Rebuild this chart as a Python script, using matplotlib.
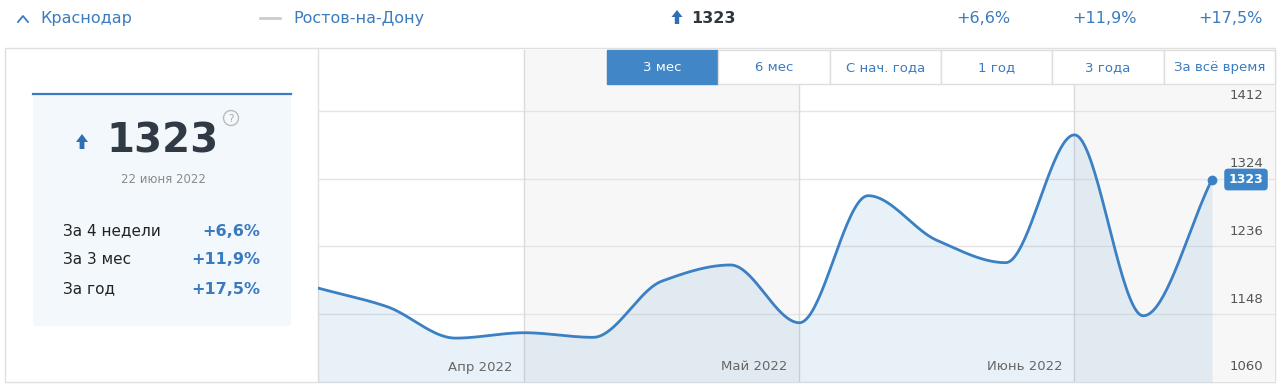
import numpy as np
import matplotlib.pyplot as plt
from matplotlib.patches import Rectangle, FancyBboxPatch, Circle, Polygon

W, H = 1280, 389

# weekly index values, last 3 months up to 22 June 2022
values = [1182, 1158, 1117, 1124, 1118, 1191, 1212, 1137, 1302, 1244, 1215, 1381, 1146, 1323]
month_labels = ["Апр 2022", "Май 2022", "Июнь 2022"]
month_starts = [3, 7, 11]
y_ticks = [1060, 1148, 1236, 1324, 1412]
periods = ["3 мес", "6 мес", "С нач. года", "1 год", "3 года", "За всё время"]
change_labels = ["За 4 недели", "За 3 мес", "За год"]
changes = ["+6,6%", "+11,9%", "+17,5%"]
current = "1323"
date_label = "22 июня 2022"
city = "Краснодар"
other_city = "Ростов-на-Дону"

BLUE = "#3d85c6"
TEXT_BLUE = "#3b7bbf"
BORDER = "#e0e0e0"


def monotone_spline(y, n=40):
    # Fritsch-Carlson monotone cubic through the points
    y = np.asarray(y, float)
    x = np.arange(len(y), dtype=float)
    d = np.diff(y)
    m = np.zeros_like(y)
    m[0], m[-1] = d[0], d[-1]
    for i in range(1, len(y) - 1):
        if d[i - 1] * d[i] <= 0:
            m[i] = 0
        else:
            m[i] = 2 / (1 / d[i - 1] + 1 / d[i])
    xs, ys = [], []
    for i in range(len(d)):
        t = np.linspace(0, 1, n, endpoint=False)
        h00 = 2 * t**3 - 3 * t**2 + 1
        h10 = t**3 - 2 * t**2 + t
        h01 = -2 * t**3 + 3 * t**2
        h11 = t**3 - t**2
        xs.append(x[i] + t)
        ys.append(h00 * y[i] + h10 * m[i] + h01 * y[i + 1] + h11 * m[i + 1])
    xs.append([x[-1]])
    ys.append([y[-1]])
    return np.concatenate(xs), np.concatenate(ys)


fig = plt.figure(figsize=(W / 100, H / 100), dpi=100)

# background layer in pixel coordinates
bg = fig.add_axes([0, 0, 1, 1])
bg.set_xlim(0, W)
bg.set_ylim(H, 0)
bg.axis("off")
bg.set_zorder(0)

# header row
bg.plot([18, 23, 28], [22, 16, 22], color=TEXT_BLUE, lw=1.3)
bg.text(40, 18, city, color=TEXT_BLUE, fontsize=11.5, va="center")
bg.plot([260, 280], [18, 18], color="#cccccc", lw=2)
bg.text(293, 18, other_city, color=TEXT_BLUE, fontsize=11.5, va="center")
bg.add_patch(Polygon([(677, 10), (671.5, 17), (674.8, 17), (674.8, 24), (679.2, 24),
                      (679.2, 17), (682.5, 17)], closed=True, fc="#2f6fb3", ec="none"))
bg.text(691, 18, current, color="#30363d", fontsize=11.5, fontweight="bold", va="center")
for txt, xr in zip(changes, [1010, 1137, 1263]):
    bg.text(xr, 18, txt, color=TEXT_BLUE, fontsize=11.5, va="center", ha="right")

# panels
bg.add_patch(Rectangle((5, 48), 1270, 334, fc="white", ec=BORDER, lw=1))
bg.plot([318, 318], [48, 382], color=BORDER, lw=1)

# summary card
bg.add_patch(FancyBboxPatch((33, 93), 258, 233, boxstyle="round,pad=0,rounding_size=4",
                            fc="#f3f8fc", ec="none"))
bg.plot([33, 291], [94, 94], color="#3a7abf", lw=1.6)
bg.add_patch(Polygon([(82, 134), (76, 142), (79.6, 142), (79.6, 149), (84.4, 149),
                      (84.4, 142), (88, 142)], closed=True, fc="#2f6fb3", ec="none"))
bg.text(163, 141, current, color="#2f3a44", fontsize=29, fontweight="bold",
        ha="center", va="center")
bg.add_patch(Circle((231, 118), 7.5, fc="none", ec="#bbbbbb", lw=1))
bg.text(231, 118.5, "?", color="#aaaaaa", fontsize=7.5, ha="center", va="center")
bg.text(163, 179, date_label, color="#8a8a8a", fontsize=8.5, ha="center", va="center")
for i, (lab, val) in enumerate(zip(change_labels, changes)):
    yy = 231 + 29 * i
    bg.text(63, yy, lab, color="#222222", fontsize=11, va="center")
    bg.text(260, yy, val, color="#3a7abf", fontsize=11.5, fontweight="bold",
            va="center", ha="right")

# chart
x0, x1, y0, y1 = 318, 1275, 50, 382
ax = fig.add_axes([x0 / W, (H - y1) / H, (x1 - x0) / W, (y1 - y0) / H])
ax.set_zorder(1)
ax.patch.set_visible(False)
step = (1212 - x0) / (len(values) - 1)
xmax = (x1 - x0) / step
ymin = y_ticks[0]
ymax = ymin + (y1 - y0) * (y_ticks[-1] - y_ticks[0]) / (382 - 111)
ax.set_xlim(0, xmax)
ax.set_ylim(ymin, ymax)
for s in ax.spines.values():
    s.set_visible(False)
ax.set_xticks([])
ax.set_yticks([])

for a, b in [(month_starts[0], month_starts[1]), (month_starts[2], xmax)]:
    ax.axvspan(a, b, color="#f7f7f7", lw=0, zorder=0)
for v in y_ticks[1:]:
    ax.axhline(v, color="#e4e4e4", lw=1, zorder=1)
for m in month_starts:
    ax.axvline(m, color="#dadada", lw=1, zorder=1)

xs, ys = monotone_spline(values)
ax.fill_between(xs, ys, ymin, color=BLUE, alpha=0.11, lw=0, zorder=2)
ax.plot(xs, ys, color="#3a80c3", lw=2, zorder=3, solid_capstyle="round")
ax.plot(len(values) - 1, values[-1], "o", color="#3a80c3", ms=6, zorder=4)

for v in y_ticks:
    ax.annotate(str(v), xy=(1, v), xycoords=("axes fraction", "data"),
                xytext=(-12, 15), textcoords="offset pixels", ha="right", va="center",
                color="#555555", fontsize=9.5, zorder=5)
for lab, m in zip(month_labels, month_starts):
    ax.annotate(lab, xy=(m, ymin), xytext=(-12, 15), textcoords="offset pixels",
                ha="right", va="center", color="#666666", fontsize=9.5, zorder=5)

ax.annotate(str(values[-1]), xy=(len(values) - 1, values[-1]), xytext=(34, 0),
            textcoords="offset pixels", ha="center", va="center", color="white",
            fontsize=9, fontweight="bold", zorder=6,
            bbox=dict(boxstyle="round,pad=0.35,rounding_size=0.3", fc=BLUE, ec="none"))

# period buttons on top
top = fig.add_axes([0, 0, 1, 1])
top.set_xlim(0, W)
top.set_ylim(H, 0)
top.axis("off")
top.set_zorder(2)
bw = (1275 - 607) / len(periods)
for i, p in enumerate(periods):
    bx = 607 + i * bw
    active = i == 0
    top.add_patch(Rectangle((bx, 50), bw, 34, fc="#4186c7" if active else "white",
                            ec="#4186c7" if active else "#dedede", lw=1))
    top.text(bx + bw / 2, 67.5, p, color="white" if active else TEXT_BLUE,
             fontsize=9.5, ha="center", va="center")

fig.savefig("out.png", dpi=100)
